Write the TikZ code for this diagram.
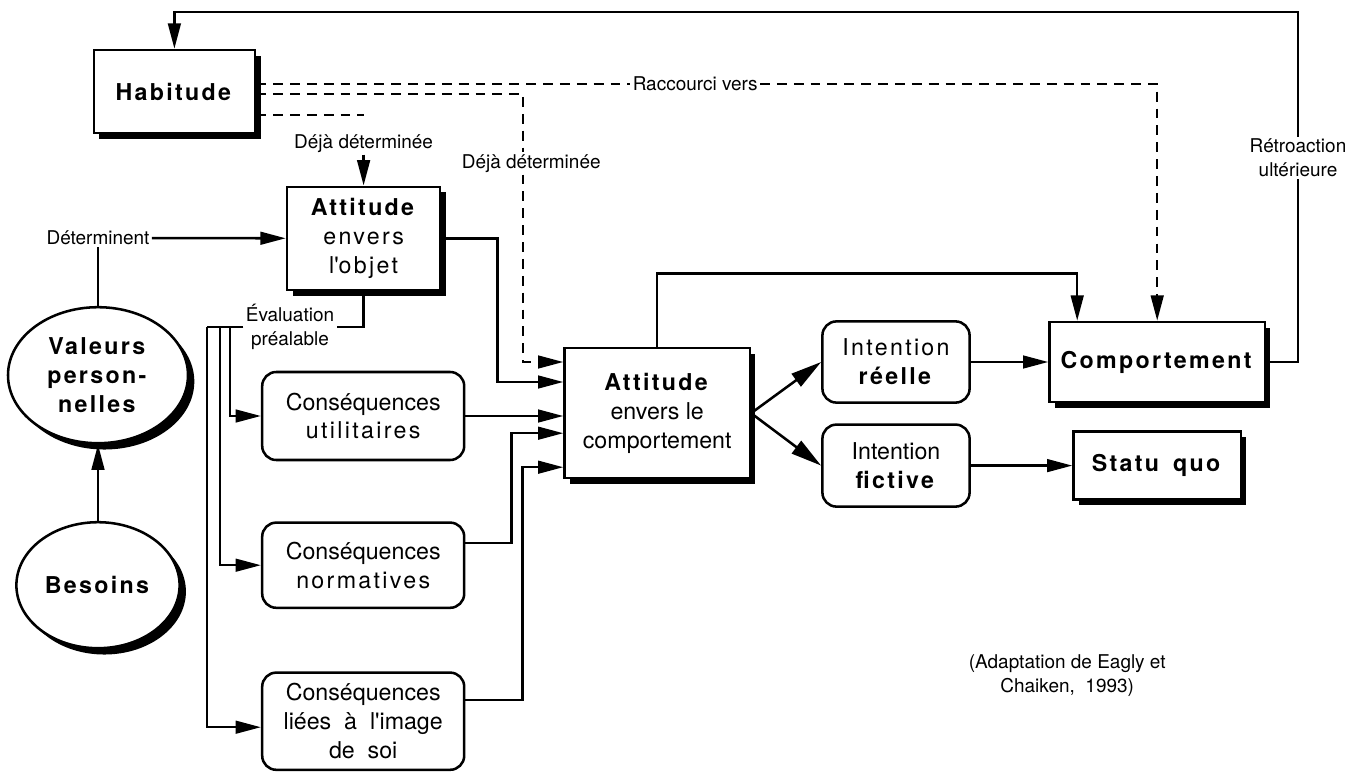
\documentclass[tikz,border=0pt]{standalone}
\usepackage{fontspec}
\setmainfont{TeX Gyre Heros}
\usepackage{tikz}
\usetikzlibrary{arrows.meta,shapes.geometric,shadows}

\newcommand{\boxfont}{\fontsize{16.5pt}{20.5pt}\selectfont}
\newcommand{\labelfont}{\fontsize{13.5pt}{17pt}\selectfont}
\newcommand{\wide}[1]{{\addfontfeature{LetterSpace=10}#1}}

\begin{document}
\begin{tikzpicture}[
  box/.style={draw,line width=1.8pt,rectangle,fill=white,align=center,inner sep=0pt,font=\boxfont,
    drop shadow={shadow xshift=4pt,shadow yshift=-4pt,fill=black,opacity=1}},
  roundbox/.style={draw,line width=1.8pt,rectangle,rounded corners=10pt,fill=white,align=center,inner sep=0pt,font=\boxfont},
  oval/.style={draw,line width=1.8pt,ellipse,fill=white,align=center,inner sep=0pt,font=\boxfont,
    drop shadow={shadow xshift=4.5pt,shadow yshift=-4.5pt,fill=black,opacity=1}},
  lbl/.style={align=center,inner sep=1.5pt,font=\labelfont},
  link/.style={line width=1.8pt},
  shortcut/.style={line width=1.8pt,dash pattern=on 7pt off 5pt},
  >={Triangle[length=18pt,width=9pt]}
]
\useasboundingbox (0,0) rectangle (33.9,-19.325);

\node[box,minimum width=4.03cm,minimum height=2.08cm] (habitude) at (4.36,-2.29) {\textbf{\wide{Habitude}}};
\node[box,minimum width=3.83cm,minimum height=2.58cm] (objet) at (9.09,-5.96) {\textbf{\wide{Attitude}}\\\wide{envers}\\\wide{l\textquotesingle objet}};
\node[oval,minimum width=4.5cm,minimum height=3.4cm] (valeurs) at (2.45,-9.38) {\textbf{\wide{Valeurs}}\\\textbf{\wide{person-}}\\\textbf{\wide{nelles}}};
\node[oval,minimum width=4.08cm,minimum height=3.15cm] (besoins) at (2.45,-14.63) {\textbf{\wide{Besoins}}};

\node[roundbox,minimum width=5.05cm,minimum height=2.2cm] (utilit) at (9.08,-10.4) {Conséquences\\\wide{utilitaires}};
\node[roundbox,minimum width=5.05cm,minimum height=2.13cm] (normat) at (9.08,-14.13) {Conséquences\\\wide{normatives}};
\node[roundbox,minimum width=5.05cm,minimum height=2.43cm] (image) at (9.08,-18.03) {Conséquences\\liées\ \ à\ \ l\textquotesingle image\\de\ \ soi};

\node[box,minimum width=4.63cm,minimum height=3.25cm] (attcomp) at (16.43,-10.33) {\textbf{\wide{Attitude}}\\envers le\\comportement};
\node[roundbox,minimum width=3.68cm,minimum height=2.03cm] (reelle) at (22.4,-9.05) {\wide{Intention}\\\textbf{\wide{réelle}}};
\node[roundbox,minimum width=3.68cm,minimum height=2.05cm] (fictive) at (22.4,-11.64) {Intention\\\textbf{\wide{fictive}}};
\node[box,minimum width=5.38cm,minimum height=2cm] (comport) at (28.93,-9.05) {\textbf{\wide{Comportement}}};
\node[box,minimum width=4.18cm,minimum height=1.7cm] (statu) at (28.93,-11.64) {\textbf{\wide{Statu}\hspace{0.6em}\wide{quo}}};

\node[lbl] (determinent) at (2.45,-5.95) {Déterminent};
\node[lbl] (deja1) at (9.09,-3.58) {Déjà déterminée};
\node[lbl] (deja2) at (13.28,-4.08) {Déjà déterminée};
\node[lbl] (evaluation) at (7.25,-8.18) {Évaluation\\préalable};
\node[lbl] (raccourci) at (17.38,-2.1) {Raccourci vers};
\node[lbl] (retro) at (32.45,-3.95) {Rétroaction\\ultérieure};
\node[lbl] (source) at (26.68,-16.9) {(Adaptation de Eagly et\\Chaiken,\ \ 1993)};

\coordinate (topright) at (32.45,-0.3);
\coordinate (dv) at (13.08,-2.35);
\coordinate (dd) at (9.09,-2.88);
\coordinate (bar) at (5.18,-8.18);

\draw[link] (comport.east) -| (retro.south);
\draw[link,->] (retro.north) -- (topright) -| (habitude.north);

\draw[shortcut] (habitude.east |- raccourci) -- (raccourci.west);
\draw[shortcut,->] (raccourci.east) -| (comport.north);
\draw[shortcut] (habitude.east |- dv) -- (dv) -- (dv |- deja2.north);
\draw[shortcut,->] (dv |- deja2.south) |- ([yshift=1.28cm]attcomp.west);
\draw[shortcut] (habitude.east |- dd) -- (dd);
\draw[link,->] (deja1) -- (objet);

\draw[link,->] (determinent) -- (objet);
\draw[link] (valeurs) -- (determinent);
\draw[link,->] (besoins) -- (valeurs);

\draw[link] (objet.south) |- (evaluation.east);
\draw[link] (evaluation.west) -- (bar);
\draw[link,->] ([xshift=0.57cm]bar) |- (utilit.west);
\draw[link,->] ([xshift=0.32cm]bar) |- (normat.west);
\draw[link,->] (bar) |- ([yshift=-0.15cm]image.west);

\draw[link,->] (objet.east) -- ++(1.4,0) |- ([yshift=0.78cm]attcomp.west);
\draw[link,->] (utilit.east) -- (attcomp.west |- utilit.east);
\draw[link,->] ([yshift=0.55cm]normat.east) -- ++(1.15,0) |- ([yshift=-0.5cm]attcomp.west);
\draw[link,->] ([yshift=0.53cm]image.east) -- ++(1.42,0) |- ([yshift=-1.35cm]attcomp.west);

\draw[link,->] (attcomp.north) -- ++(0,1.83) -| ([xshift=-2cm]comport.north);
\draw[link,-{Triangle[length=22pt,width=11pt]}] (attcomp.east) -- (reelle.west);
\draw[link,-{Triangle[length=22pt,width=11pt]}] (attcomp.east) -- (fictive.west);
\draw[link,->] (reelle) -- (comport);
\draw[link,->] (fictive) -- (statu);
\end{tikzpicture}
\end{document}
